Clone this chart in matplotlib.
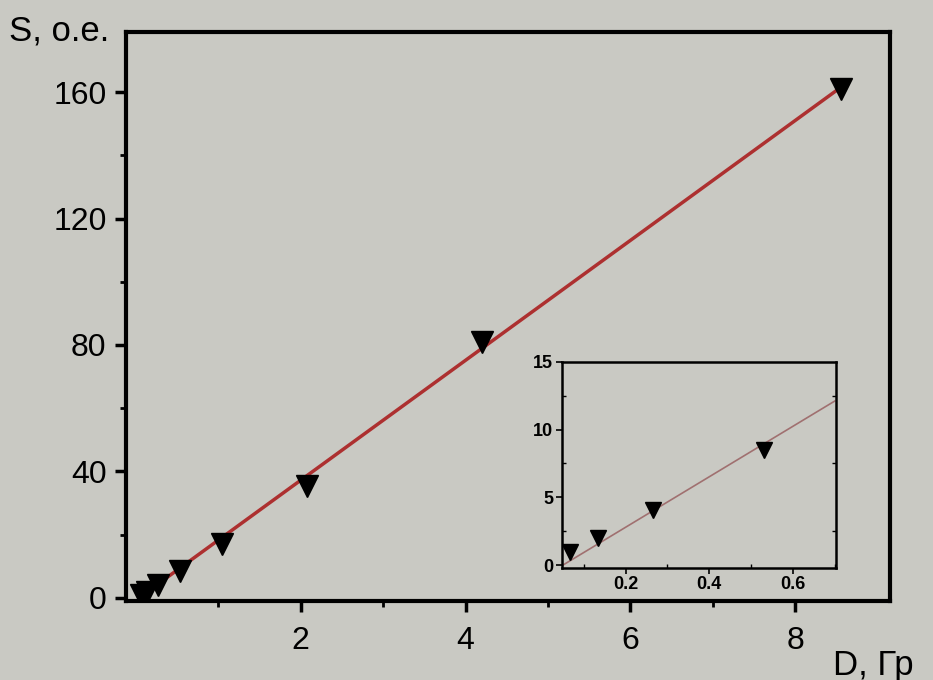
#dose dependence S(D) with a zoomed inset for the low-dose points
import matplotlib.pyplot as plt
from matplotlib.ticker import MultipleLocator

plt.rcParams['font.family'] = ['Liberation Sans', 'DejaVu Sans']

#measured points (dose in Gy, signal in rel. units)
dose = [0.066, 0.133, 0.265, 0.53, 1.04, 2.08, 4.2, 8.55]
signal = [1.0, 2.0, 4.1, 8.5, 17.0, 35.5, 81.0, 161.0]
#linear fit ends
fit_x = [0.3, 8.5]
fit_y = [5.0, 160.5]
#inset fit ends
ins_fit_x = [0.05, 0.70]
ins_fit_y = [0.0, 12.1]

bg = '#c9c9c3'
fig = plt.figure(figsize=(9.33, 6.80), dpi=100, facecolor=bg)

ax = fig.add_axes([0.135, 0.116, 0.819, 0.837], facecolor=bg)
ax.plot(fit_x, fit_y, '-', color='#ad3030', lw=2.5, zorder=2)
ax.plot(dose, signal, 'v', color='black', ms=16, zorder=3)
ax.set_xlim(-0.12, 9.15)
ax.set_ylim(-1, 179)
ax.set_xticks([2, 4, 6, 8])
ax.set_xticks([1, 3, 5, 7], minor=True)
ax.yaxis.set_major_locator(MultipleLocator(40))
ax.set_yticks([20, 60, 100, 140], minor=True)
for s in ax.spines.values():
    s.set_linewidth(3)
ax.tick_params(which='major', direction='out', length=8, width=2.5, labelsize=23, pad=6)
ax.tick_params(which='minor', direction='out', length=4, width=2)
ax.tick_params(axis='x', which='major', pad=10)
fig.text(0.010, 0.955, 'S, o.e.', fontsize=25, ha='left', va='center')
fig.text(0.893, 0.022, 'D, Гр', fontsize=25, ha='left', va='center')

#inset
ins = fig.add_axes([0.602, 0.165, 0.294, 0.303], facecolor=bg)
ins.plot(ins_fit_x, ins_fit_y, '-', color='#a07070', lw=1.2, zorder=2)
ins.plot(dose[:4], signal[:4], 'v', color='black', ms=12, zorder=3)
ins.set_xlim(0.047, 0.703)
ins.set_ylim(-0.2, 15)
ins.set_xticks([0.2, 0.4, 0.6])
ins.xaxis.set_minor_locator(MultipleLocator(0.1))
ins.yaxis.set_major_locator(MultipleLocator(5))
ins.yaxis.set_minor_locator(MultipleLocator(2.5))
for s in ins.spines.values():
    s.set_linewidth(1.8)
ins.tick_params(which='major', direction='out', length=4, width=1.2, labelsize=13, pad=2)
ins.tick_params(which='minor', direction='in', length=3, width=1, right=True)
for lab in ins.get_xticklabels() + ins.get_yticklabels():
    lab.set_fontweight('bold')

fig.savefig('out.png', dpi=100, facecolor=bg)
